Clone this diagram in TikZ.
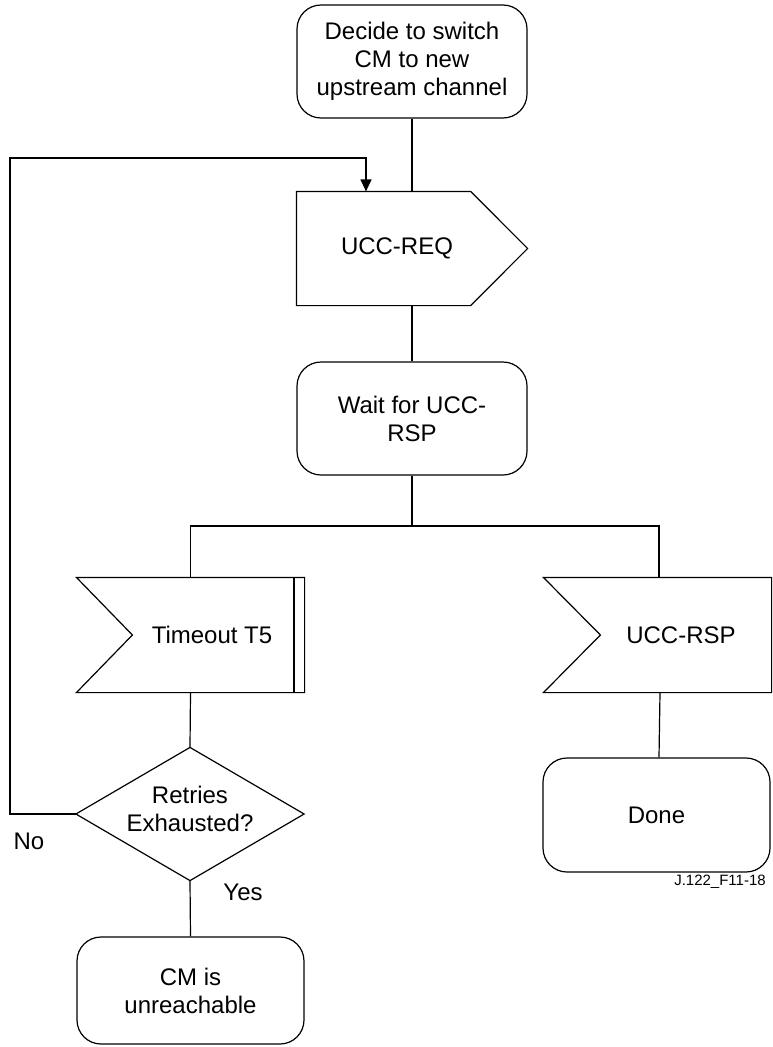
\documentclass[tikz,border=0pt]{standalone}
\usepackage{fontspec}
\setmainfont{Liberation Sans}
\usetikzlibrary{calc,arrows.meta}
\begin{document}
\begin{tikzpicture}[x=1pt,y=-1pt,
  line width=1.2pt,
  txt/.style={font=\fontsize{24}{28}\selectfont, align=center, inner sep=0pt},
  small/.style={font=\fontsize{15}{18}\selectfont, inner sep=0pt},
  proc/.style={txt, draw, rounded corners=24pt, minimum width=230pt, minimum height=113pt},
  frame/.style={draw=none, inner sep=0pt, minimum width=#1},
  frame/.default=227pt,
  arr/.style={-{Triangle[length=12pt,width=11pt]}}]
\useasboundingbox (0,0) rectangle (773,1047);

% main column
\node[proc] (start) at (412,61.5) {Decide to switch\\CM to new\\upstream channel};
\node[frame=230pt, minimum height=113pt] (req) at (412,248.5) {};
\node[txt] (reqt) at (397,248.5) {UCC-REQ};
\draw (req.north west) -- ($(req.north east)+(-57,0)$) -- (req.east)
      -- ($(req.south east)+(-57,0)$) -- (req.south west) -- cycle;
\node[proc] (wait) at (412,418.5) {Wait for UCC-\\RSP};

% branch on timeout
\node[frame, minimum height=114pt] (tmo) at (190.5,635) {};
\node[txt] (tmot) at (212,635) {Timeout T5};
\draw (tmo.north west) -- (tmo.north east) -- (tmo.south east)
      -- (tmo.south west) -- ($(tmo.west)+(56,0)$) -- cycle;
\draw[line width=2.2pt] ($(tmo.north east)+(-11,0)$) -- ($(tmo.south east)+(-11,0)$);

\node[frame, minimum height=132pt] (dec) at (190,814) {};
\draw (dec.north) -- (dec.east) -- (dec.south) -- (dec.west) -- cycle;
\node[txt] (dect) at (190,809) {Retries\\Exhausted?};

\node[proc, minimum width=227pt, minimum height=107pt] (cm) at (190.5,990.5) {CM is\\unreachable};

% branch on response
\node[frame, minimum height=114pt] (rsp) at (657.5,635) {};
\node[txt] (rspt) at (681,635) {UCC-RSP};
\draw (rsp.north west) -- (rsp.north east) -- (rsp.south east)
      -- (rsp.south west) -- ($(rsp.west)+(57,0)$) -- cycle;
\node[proc, minimum width=227pt, minimum height=114pt] (done) at (656.5,815) {Done};

% connectors
\coordinate (fork) at (412,526);
\coordinate (loop) at (10,158);
\draw (start.south) -- (req.north);
\draw (req.south) -- (wait.north);
\draw (wait.south) -- (fork);
\draw (tmo.north) |- (fork) -| ([xshift=1.5pt]rsp.north);
\draw (tmo.south) -- (dec.north);
\draw (dec.south) -- (cm.north);
\draw ([xshift=2.5pt]rsp.south) -- ([xshift=2.5pt]done.north);
\draw[arr] (dec.west) -| (loop) -| ([xshift=-46pt]req.north);

% labels
\node[txt] (no) at (29,841) {No};
\node[txt] (yes) at (243,892) {Yes};
\node[small] (fig) at (720,882) {J.122\_F11-18};
\end{tikzpicture}
\end{document}
